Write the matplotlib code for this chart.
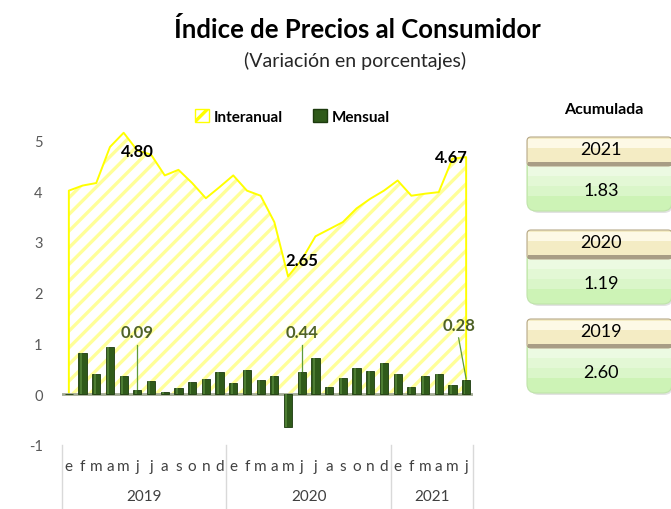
import matplotlib.pyplot as plt
import numpy as np
from matplotlib.patches import FancyBboxPatch, Rectangle

plt.rcParams['font.family'] = ['Lato', 'DejaVu Sans']
plt.rcParams['hatch.linewidth'] = 2.4
plt.rcParams['axes.unicode_minus'] = False

# datos
meses = ['e', 'f', 'm', 'a', 'm', 'j', 'j', 'a', 's', 'o', 'n', 'd',
         'e', 'f', 'm', 'a', 'm', 'j', 'j', 'a', 's', 'o', 'n', 'd',
         'e', 'f', 'm', 'a', 'm', 'j']
anios = ['2019', '2020', '2021']
meses_por_anio = [12, 12, 6]
interanual = [4.01, 4.11, 4.16, 4.87, 5.15, 4.80, 4.72, 4.31, 4.42, 4.16, 3.86, 4.08,
              4.31, 4.01, 3.91, 3.39, 2.32, 2.65, 3.11, 3.25, 3.39, 3.66, 3.85, 4.01,
              4.21, 3.91, 3.95, 3.98, 4.64, 4.67]
mensual = [0.01, 0.81, 0.40, 0.94, 0.36, 0.09, 0.27, 0.05, 0.13, 0.24, 0.30, 0.43,
           0.23, 0.48, 0.28, 0.36, -0.64, 0.44, 0.72, 0.15, 0.32, 0.51, 0.46, 0.62,
           0.40, 0.15, 0.36, 0.40, 0.18, 0.28]
acum_anios = ['2021', '2020', '2019']
acum_valores = ['1.83', '1.19', '2.60']
etiq_inter = [5, 17, 29]   # meses con etiqueta (junio)

x = np.arange(len(meses))

fig = plt.figure(figsize=(6.71, 5.10), dpi=100)
ax = fig.add_axes([62/671, (510-446)/510, 411/671, 330/510])
ax.set_xlim(-0.5, len(meses) - 0.5)
ax.set_ylim(-1, 5.5)

# area interanual con rayado
ax.fill_between(x, 0, interanual, facecolor='none', edgecolor='#ffff99',
                hatch='//', linewidth=0, zorder=1)
xs = np.concatenate([[x[0]], x, [x[-1]]])
ys = np.concatenate([[0], interanual, [0]])
ax.plot(xs, ys, color='#ffff00', lw=1.4, zorder=2)

# linea base
ax.axhline(0, color='#a3ab95', lw=2, zorder=3)

# barras mensuales
ax.bar(x, mensual, width=0.6, color='#2f5a1a', edgecolor='#1c3a0e', lw=0.6, zorder=4)
ax.bar(x - 0.12, mensual, width=0.14, color='#4d7d33', lw=0, zorder=5)

# etiquetas interanual
for i in etiq_inter:
    if i == len(meses) - 1:
        ax.text(x[i] + 0.15, interanual[i], f'{interanual[i]:.2f}', ha='right', va='center',
                fontsize=12, fontweight='bold', color='black', zorder=6)
    else:
        ax.text(x[i], interanual[i], f'{interanual[i]:.2f}', ha='center', va='center',
                fontsize=12, fontweight='bold', color='black', zorder=6)

# etiquetas mensual con linea guia
for i in etiq_inter:
    if i == len(meses) - 1:
        tx, ty = x[i] - 0.55, 1.36
    else:
        tx, ty = x[i], 1.22
    ax.plot([tx, x[i]], [ty - 0.25, mensual[i] + 0.02], color='#5e9b3a', lw=0.9, zorder=6)
    ax.text(tx, ty, f'{mensual[i]:.2f}', ha='center', va='center', fontsize=12,
            fontweight='bold', color='#4f6228', zorder=6)

ax.set_yticks([-1, 0, 1, 2, 3, 4, 5])
ax.tick_params(axis='y', length=0, labelsize=10.5, labelcolor='#595959', pad=14)
ax.set_xticks([])
for s in ax.spines.values():
    s.set_visible(False)

# eje x en dos niveles
tr = ax.get_xaxis_transform()
for i, m in enumerate(meses):
    ax.text(x[i], -0.064, m, transform=tr, ha='center', va='center',
            fontsize=11, color='#404040')
inicio = -0.5
for anio, n in zip(anios, meses_por_anio):
    ax.plot([inicio, inicio], [0, -0.2], transform=tr, color='#d9d9d9', lw=1, clip_on=False)
    ax.text(inicio + n/2, -0.155, anio, transform=tr, ha='center', va='center',
            fontsize=11, color='#404040')
    inicio += n
ax.plot([inicio, inicio], [0, -0.2], transform=tr, color='#d9d9d9', lw=1, clip_on=False)

# leyenda
h1 = Rectangle((0, 0), 1, 1, facecolor='white', edgecolor='#ffff00', hatch='//', lw=1)
h2 = Rectangle((0, 0), 1, 1, facecolor='#2f5a1a', edgecolor='#1c3a0e')
ax.legend([h1, h2], ['Interanual', 'Mensual'], loc='upper center',
          bbox_to_anchor=(0.56, 1.06), ncol=2, frameon=False,
          handlelength=0.9, handleheight=0.9, handletextpad=0.3, columnspacing=2.0,
          prop={'weight': 'bold', 'size': 11})

# titulos y cuadros de acumulada (coordenadas en pixeles)
ov = fig.add_axes([0, 0, 1, 1], zorder=-1)
ov.set_xlim(0, 671)
ov.set_ylim(510, 0)
ov.axis('off')
ov.text(357, 30, 'Índice de Precios al Consumidor', ha='center', va='center',
        fontsize=18.5, fontweight='bold', color='black')
ov.text(355, 61, '(Variación en porcentajes)', ha='center', va='center',
        fontsize=14, color='#262626')
ov.text(604, 110, 'Acumulada', ha='center', va='center', fontsize=11.5,
        fontweight='bold', color='black')

tops = [138, 231, 320]
for top, anio, val in zip(tops, acum_anios, acum_valores):
    # sombra
    ov.add_patch(FancyBboxPatch((530, top + 4), 143, 72, boxstyle='round,pad=0,rounding_size=9',
                                facecolor='#d0d0d0', edgecolor='none', alpha=0.6))
    # cuadro verde con degradado simple
    ov.add_patch(FancyBboxPatch((527, top + 20), 145, 54, boxstyle='round,pad=0,rounding_size=9',
                                facecolor='#cdf3b6', edgecolor='#bfe3aa', lw=0.8))
    for k, c in enumerate(['#ecfae2', '#e3f8d5', '#daf6c9']):
        ov.add_patch(Rectangle((528, top + 29 + k*10), 143, 10, facecolor=c, edgecolor='none'))
    # encabezado
    ov.add_patch(FancyBboxPatch((527, top), 145, 29, boxstyle='round,pad=0,rounding_size=4',
                                facecolor='#f4ecc4', edgecolor='#b7a98a', lw=0.8))
    ov.add_patch(Rectangle((528, top + 2), 143, 9, facecolor='#fdf9e6', edgecolor='none'))
    ov.add_patch(Rectangle((528, top + 25), 143, 4, facecolor='#a89d85', edgecolor='none'))
    ov.text(601, top + 12, anio, ha='center', va='center', fontsize=13, color='black')
    ov.text(601, top + 53, val, ha='center', va='center', fontsize=13, color='black')

plt.savefig('out.png', dpi=100)
